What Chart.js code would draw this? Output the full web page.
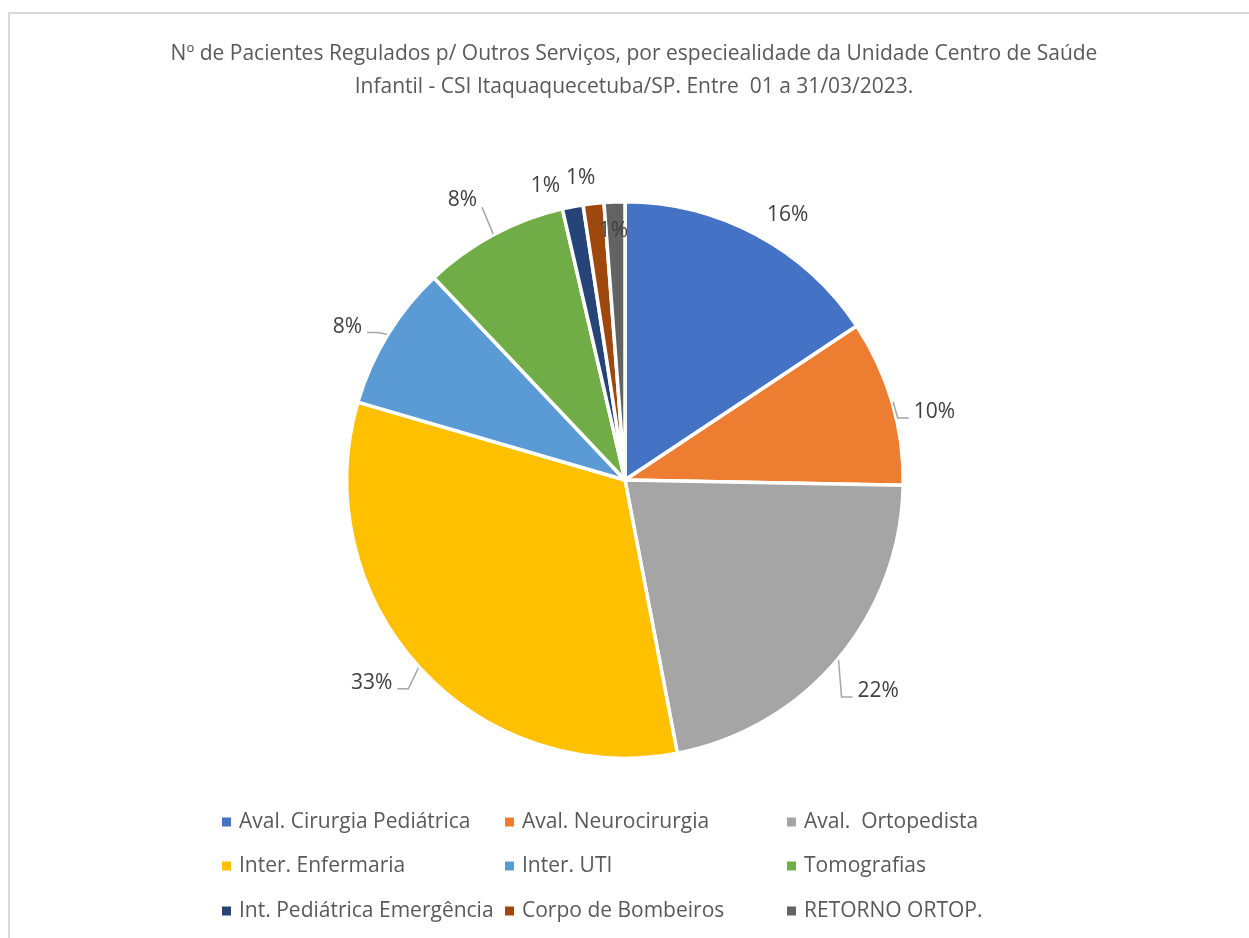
<!DOCTYPE html>
<html>
<head>
<meta charset="utf-8">
<script src="https://cdn.jsdelivr.net/npm/chart.js@4.4.1/dist/chart.umd.min.js"></script>
<style>
  html, body { margin: 0; padding: 0; background: #fff; overflow: hidden; }
  canvas { display: block; }
</style>
</head>
<body>
<canvas id="pieChart" width="1249" height="938"></canvas>
<script>
// Data
const categories = [
  "Aval. Cirurgia Pediátrica",
  "Aval. Neurocirurgia",
  "Aval.  Ortopedista",
  "Inter. Enfermaria",
  "Inter. UTI",
  "Tomografias",
  "Int. Pediátrica Emergência",
  "Corpo de Bombeiros",
  "RETORNO ORTOP."
];
const patients = [13, 8, 18, 27, 7, 7, 1, 1, 1];
const sliceColors = ["#4472C4", "#ED7D31", "#A5A5A5", "#FFC000", "#5B9BD5", "#70AD47", "#264478", "#9E480E", "#636363"];
const titleLines = [
  "Nº de Pacientes Regulados p/ Outros Serviços, por especiealidade da Unidade Centro de Saúde",
  "Infantil - CSI Itaquaquecetuba/SP. Entre  01 a 31/03/2023."
];

// Label placement (px beyond the rim, angle nudge in degrees, leader side)
const labelOffsets = [34, 39, 50, 45, 40, 47, 28, 29, -27];
const labelNudges = [3.2, 3.5, -0.6, 3.9, -2.2, -1.8, -4.2, -1.8, -0.5];
const leaderSides = [null, "right", "right", "left", "left", "top", null, null, null];

const total = patients.reduce((a, b) => a + b, 0);

// Frame, title and legend
const decorPlugin = {
  id: "decor",
  beforeDraw(chart) {
    const c = chart.ctx;
    c.save();
    c.fillStyle = "#fff";
    c.fillRect(0, 0, chart.width, chart.height);
    c.strokeStyle = "#d9d9d9";
    c.lineWidth = 2;
    c.strokeRect(9, 13, 1300, 1000);
    c.restore();
  },
  afterDraw(chart) {
    const c = chart.ctx;
    c.save();
    // Title
    c.fillStyle = "#595959";
    c.font = "21px 'Open Sans'";
    c.textAlign = "center";
    c.textBaseline = "middle";
    titleLines.forEach((line, i) => {
      c.fillText(line, 634, 54 + i * 33);
    });

    // Legend, 3 columns
    const colX = [222, 505, 787];
    const rowY = [822, 866, 911];
    c.font = "21px 'Open Sans'";
    c.textAlign = "left";
    categories.forEach((name, i) => {
      const x = colX[i % 3];
      const y = rowY[Math.floor(i / 3)];
      c.fillStyle = sliceColors[i];
      c.fillRect(x, y - 4.5, 9, 9);
      c.fillStyle = "#595959";
      c.fillText(name, x + 17, y);
    });
    c.restore();
  }
};

// Percentage labels with leader lines
const labelPlugin = {
  id: "pctLabels",
  afterDatasetsDraw(chart) {
    const c = chart.ctx;
    const meta = chart.getDatasetMeta(0);
    c.save();
    c.font = "21px 'Open Sans'";
    c.textAlign = "center";
    c.textBaseline = "middle";
    meta.data.forEach((arc, i) => {
      const p = arc.getProps(["x", "y", "startAngle", "endAngle", "outerRadius"], true);
      const mid = (p.startAngle + p.endAngle) / 2;
      const ang = mid + labelNudges[i] * Math.PI / 180;
      const d = p.outerRadius + labelOffsets[i];
      const tx = p.x + Math.cos(ang) * d;
      const ty = p.y + Math.sin(ang) * d + 2;
      const text = Math.round(patients[i] / total * 100) + "%";
      c.fillStyle = "#404040";
      c.fillText(text, tx, ty);

      const side = leaderSides[i];
      if (!side) return;
      const w = c.measureText(text).width;
      let T, elbow;
      if (side === "right") {
        T = [tx - w / 2 - 5, ty + 6];
        elbow = [T[0] - 11, T[1]];
      } else if (side === "left") {
        T = [tx + w / 2 + 5, ty + 6];
        elbow = [T[0] + 11, T[1]];
      } else {
        T = [tx + w / 2 + 5, ty + 7];
        elbow = T;
      }
      const E = [p.x + Math.cos(mid) * (p.outerRadius + 1), p.y + Math.sin(mid) * (p.outerRadius + 1)];
      c.strokeStyle = "#a6a6a6";
      c.lineWidth = 1.5;
      c.beginPath();
      c.moveTo(E[0], E[1]);
      c.lineTo(elbow[0], elbow[1]);
      c.lineTo(T[0], T[1]);
      c.stroke();
    });
    c.restore();
  }
};

const ctx = document.getElementById("pieChart").getContext("2d");

const pieChart = new Chart(ctx, {
  type: "pie",
  data: {
    labels: categories,
    datasets: [
      {
        label: "Pacientes",
        data: patients,
        backgroundColor: sliceColors,
        borderColor: "#ffffff",
        borderWidth: 3.5
      }
    ]
  },
  options: {
    responsive: false,
    animation: false,
    devicePixelRatio: 1,
    layout: {
      padding: { top: 200, bottom: 178, left: 345, right: 344 }
    },
    plugins: {
      legend: { display: false },
      title: { display: false },
      tooltip: { enabled: false }
    }
  },
  plugins: [decorPlugin, labelPlugin]
});
</script>
</body>
</html>
